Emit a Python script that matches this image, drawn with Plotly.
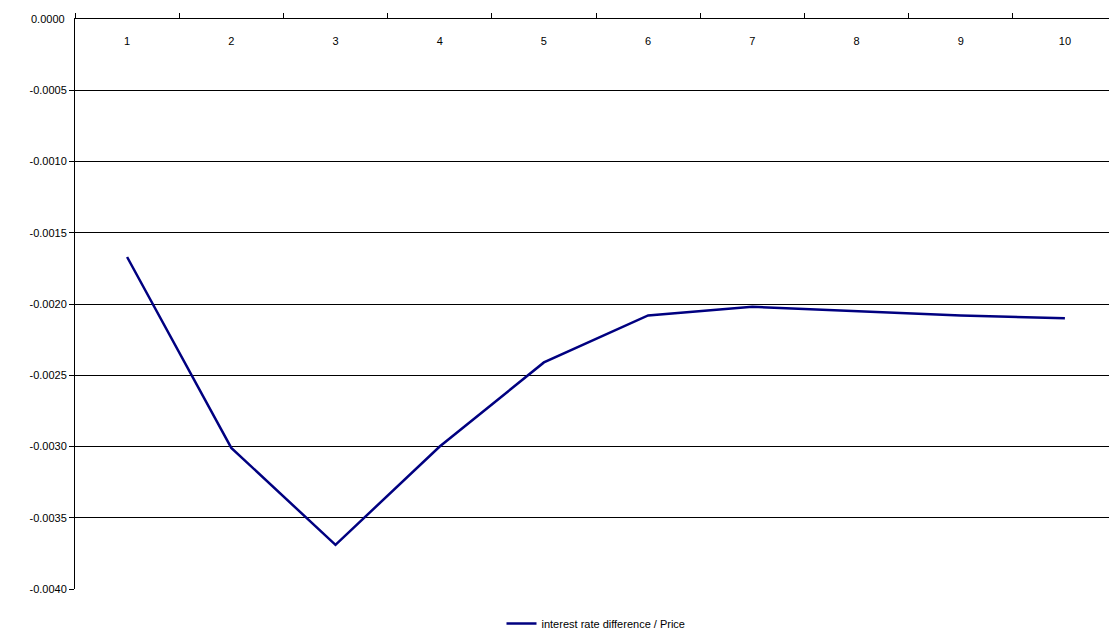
import plotly.graph_objects as go

periods = ['1', '2', '3', '4', '5', '6', '7', '8', '9', '10']
ratio = [-0.00167, -0.00301, -0.00369, -0.00300, -0.00241,
         -0.00208, -0.00202, -0.00205, -0.00208, -0.00210]
y_ticks = [0, -0.0005, -0.001, -0.0015, -0.002, -0.0025, -0.003, -0.0035, -0.004]
y_labels = ['0.0000', '-0.0005', '-0.0010', '-0.0015', '-0.0020',
            '-0.0025', '-0.0030', '-0.0035', '-0.0040']

fig = go.Figure()
fig.add_trace(go.Scatter(
    x=periods, y=ratio, mode='lines',
    name='interest rate difference / Price',
    line=dict(color='#000080', width=2.5),
))

# top label gets dropped by plotly, so draw it as an annotation
fig.add_annotation(x=0, xref='paper', xanchor='right', xshift=-8,
                   y=y_ticks[0], yref='y', text=y_labels[0], showarrow=False,
                   font=dict(size=11, color='black'))

fig.update_layout(
    width=1109, height=622,
    paper_bgcolor='white', plot_bgcolor='white',
    font=dict(family='Arial, Liberation Sans', size=11, color='black'),
    margin=dict(l=67, r=0, t=11, b=41, autoexpand=False),
    showlegend=True,
    legend=dict(orientation='h', x=0.5, xanchor='center', y=-0.035, yanchor='top',
                font=dict(size=11, color='black')),
    xaxis=dict(
        type='category', range=[-0.5, 9.5],
        side='top', ticklabelposition='inside', ticklabelstandoff=18,
        showgrid=False, automargin=False,
        showline=True, linecolor='black', linewidth=1,
        ticks='outside', tickson='boundaries', ticklen=5, tickcolor='black',
        tickfont=dict(color='black'),
    ),
    yaxis=dict(
        range=[-0.004, 0], tickmode='array', tickvals=y_ticks[1:], ticktext=y_labels[1:],
        showgrid=True, gridcolor='black', gridwidth=1, automargin=False,
        showline=True, linecolor='black', linewidth=1,
        ticks='outside', ticklen=5, tickcolor='black', zeroline=False,
        tickfont=dict(color='black'),
    ),
)

fig.write_html("out.html")
